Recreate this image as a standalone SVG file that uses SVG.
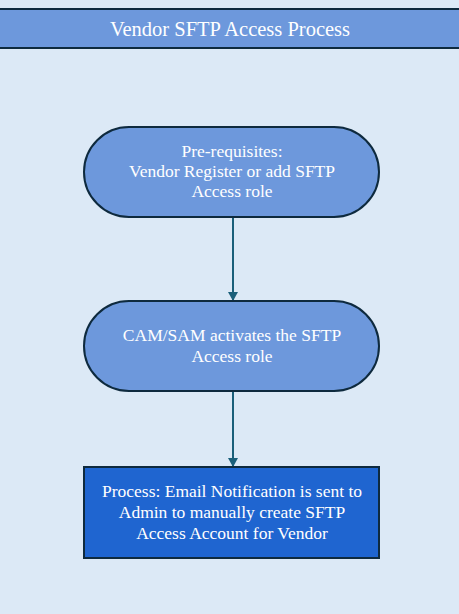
<svg xmlns="http://www.w3.org/2000/svg" width="459" height="614" viewBox="0 0 459 614">
<defs>
<style>
text{font-family:'Liberation Serif','Times New Roman',serif;fill:#ffffff;text-anchor:middle;}
.n{font-size:17.5px;}
.node{stroke:#0e2a3e;stroke-width:2;}
.conn{stroke:#1a5f7a;stroke-width:2;fill:none;}
</style>
<marker id="ah" markerWidth="10" markerHeight="10" refX="8" refY="5" orient="auto" markerUnits="userSpaceOnUse">
<path d="M0,0 L9,5 L0,10 Z" fill="#1a5f7a"/>
</marker>
</defs>
<rect width="459" height="614" fill="#dce9f6"/>
<g id="header">
<rect x="-2" y="9" width="463" height="39" fill="#6d98dc" class="node"/>
<text x="230" y="36" font-size="20.5">Vendor SFTP Access Process</text>
</g>
<g id="connectors">
<line class="conn" x1="233" y1="217" x2="233" y2="300" marker-end="url(#ah)"/>
<line class="conn" x1="233" y1="391" x2="233" y2="466" marker-end="url(#ah)"/>
</g>
<g id="node1">
<rect class="node" x="84" y="127" width="295" height="90" rx="45" ry="45" fill="#6d98dc"/>
<text class="n" x="232" y="157">Pre-requisites:</text>
<text class="n" x="232" y="177">Vendor Register or add SFTP</text>
<text class="n" x="232" y="197">Access role</text>
</g>
<g id="node2">
<rect class="node" x="84" y="301" width="295" height="90" rx="45" ry="45" fill="#6d98dc"/>
<text class="n" x="232" y="341">CAM/SAM activates the SFTP</text>
<text class="n" x="232" y="362">Access role</text>
</g>
<g id="node3">
<rect class="node" x="84" y="467" width="295" height="91" fill="#1f65d0"/>
<text class="n" x="232" y="497">Process: Email Notification is sent to</text>
<text class="n" x="232" y="518">Admin to manually create SFTP</text>
<text class="n" x="232" y="539">Access Account for Vendor</text>
</g>
</svg>
